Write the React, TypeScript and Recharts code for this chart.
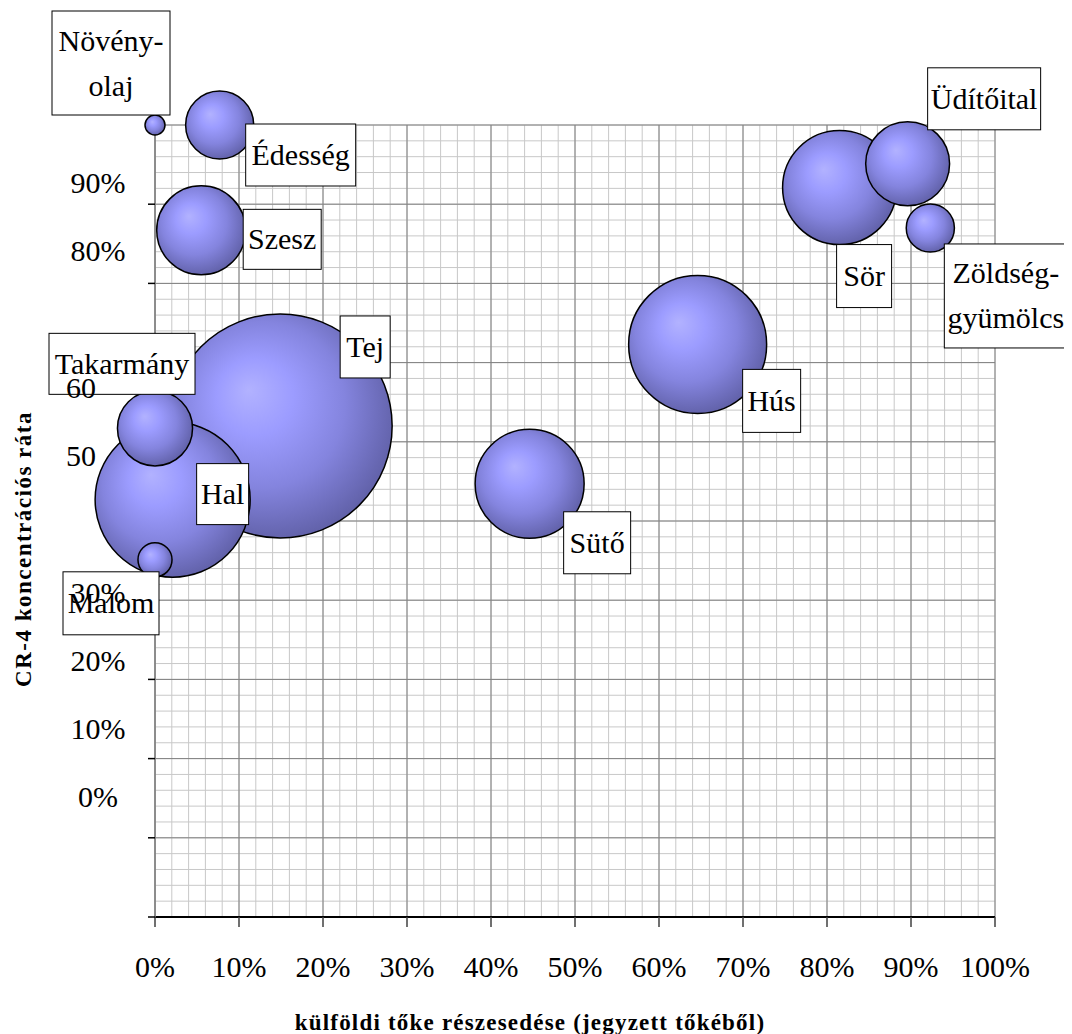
import React from 'react';
import { ScatterChart, Scatter, XAxis, YAxis, ZAxis, CartesianGrid, Label } from 'recharts';

// ---- data ----
const industries = ['Tej', 'Hal', 'Hús', 'Sör', 'Sütő', 'Szesz', 'Üdítőital', 'Takarmány', 'Édesség', 'Zöldség-gyümölcs', 'Malom', 'Növényolaj'];
const labelTexts = ['Tej', 'Hal', 'Hús', 'Sör', 'Sütő', 'Szesz', 'Üdítőital', 'Takarmány', 'Édesség', 'Zöldség-\ngyümölcs', 'Malom', 'Növény-\nolaj'];
const foreignShare = [14.9, 2.1, 64.6, 81.5, 44.6, 5.5, 89.6, 0, 7.7, 92.3, 0, 0];
const cr4 = [62.0, 52.7, 72.3, 92.1, 54.7, 86.7, 95.1, 61.7, 100, 87.0, 45.1, 100];
const bubbleSize = [125.4, 60.1, 47.6, 32.5, 29.7, 19.8, 17.6, 14.1, 11.6, 5.8, 2.9, 1.0];

const xTicks = [0, 10, 20, 30, 40, 50, 60, 70, 80, 90, 100];
const xTickLabels = ['0%', '10%', '20%', '30%', '40%', '50%', '60%', '70%', '80%', '90%', '100%'];
const yMajorTicks = [0, 10, 20, 30, 40, 50, 60, 70, 80, 90, 100];
const minorTicks = [0, 2, 4, 6, 8, 10, 12, 14, 16, 18, 20, 22, 24, 26, 28, 30, 32, 34, 36, 38, 40, 42, 44, 46, 48, 50, 52, 54, 56, 58, 60, 62, 64, 66, 68, 70, 72, 74, 76, 78, 80, 82, 84, 86, 88, 90, 92, 94, 96, 98, 100];
// y tick labels as they appear (free-floating text labels of the original)
const yLabelValues = [0, 10, 20, 30, 50, 60, 80, 90];
const yLabelTexts = ['0%', '10%', '20%', '30%', '50', '60', '80%', '90%'];

const xTitle = 'külföldi tőke részesedése (jegyzett tőkéből)';
const yTitle = 'CR-4 koncentrációs ráta';

const data = industries.map((name, i) => ({
  name,
  label: labelTexts[i],
  x: foreignShare[i],
  y: cr4[i],
  size: bubbleSize[i],
}));

// ---- label box placement relative to bubble centre (style config) ----
const labelBoxes: Record<string, { dx: number; dy: number; w: number; h: number }> = {
  'Tej': { dx: 60, dy: -110, w: 50, h: 62 },
  'Hal': { dx: 24, dy: -36, w: 52, h: 61 },
  'Hús': { dx: 45, dy: 25, w: 58, h: 63 },
  'Sör': { dx: -3, dy: 57, w: 55, h: 63 },
  'Sütő': { dx: 34, dy: 28, w: 67, h: 62 },
  'Szesz': { dx: 42, dy: -21, w: 78, h: 60 },
  'Üdítőital': { dx: 20, dy: -96, w: 113, h: 62 },
  'Takarmány': { dx: -106, dy: -95, w: 146, h: 61 },
  'Édesség': { dx: 26, dy: -1, w: 110, h: 62 },
  'Zöldség-gyümölcs': { dx: 14, dy: 16, w: 123, h: 104 },
  'Malom': { dx: -92, dy: 12, w: 96, h: 63 },
  'Növényolaj': { dx: -103, dy: -114, w: 118, h: 104 },
};

const SERIF = '"Liberation Serif", "Times New Roman", "DejaVu Serif", serif';

function LabelBox(props: any) {
  const { cx, cy } = props;
  const entry = props.payload || props;
  const box = labelBoxes[entry.name];
  if (!box || cx == null) return <g />;
  const lines: string[] = String(entry.label).split('\n');
  const x0 = cx + box.dx;
  const y0 = cy + box.dy;
  const midX = x0 + box.w / 2;
  const midY = y0 + box.h / 2;
  const lh = 45;
  return (
    <g>
      <rect x={x0} y={y0} width={box.w} height={box.h} fill="#ffffff" stroke="#000000" strokeWidth={1} />
      {lines.map((t, i) => (
        <text
          key={i}
          x={midX}
          y={midY + (i - (lines.length - 1) / 2) * lh + 10}
          textAnchor="middle"
          fontSize={30}
          fontFamily={SERIF}
          fill="#000000"
        >
          {t}
        </text>
      ))}
    </g>
  );
}

function YLabelTick(props: any) {
  const { x, y, payload } = props;
  const idx = yLabelValues.indexOf(payload.value);
  const txt = idx >= 0 ? yLabelTexts[idx] : '';
  const hasPct = txt.indexOf('%') >= 0;
  return (
    <text
      x={hasPct ? x - 49 : x - 81}
      y={y}
      dy="0.355em"
      textAnchor={hasPct ? 'middle' : 'start'}
      fontSize={30}
      fontFamily={SERIF}
      fill="#000000"
    >
      {txt}
    </text>
  );
}

function XTick(props: any) {
  const { x, y, payload } = props;
  const idx = xTicks.indexOf(payload.value);
  return (
    <text x={x} y={y} dy="0.71em" textAnchor="middle" fontSize={30} fontFamily={SERIF} fill="#000000">
      {idx >= 0 ? xTickLabels[idx] : ''}
    </text>
  );
}

const NoTick = () => <g />;

export default function App() {
  return (
    <div style={{ width: 1064, height: 1026, background: '#ffffff' }}>
      <ScatterChart width={1064} height={1026} margin={{ top: 117, right: 77, bottom: 0, left: 79 }}>
        <defs>
          <radialGradient id="bubbleGrad" cx="0.45" cy="0.44" r="0.57" fx="0.36" fy="0.34">
            <stop offset="0" stopColor="#B2B2FF" />
            <stop offset="0.3" stopColor="#9C9CFF" />
            <stop offset="0.65" stopColor="#8484DE" />
            <stop offset="1" stopColor="#6262AA" />
          </radialGradient>
        </defs>
        <XAxis xAxisId="xm" dataKey="x" type="number" domain={[0, 100]} ticks={minorTicks} hide allowDataOverflow interval={0} />
        <YAxis yAxisId="ym" dataKey="y" type="number" domain={[0, 100]} ticks={minorTicks} hide allowDataOverflow interval={0} />
        <CartesianGrid xAxisId="xm" yAxisId="ym" stroke="#C8C8C8" strokeWidth={1} />
        <XAxis
          xAxisId="x"
          dataKey="x"
          type="number"
          domain={[0, 100]}
          ticks={xTicks}
          height={117}
          axisLine={{ stroke: '#000000', strokeWidth: 2 }}
          tickLine={{ stroke: '#404040', strokeWidth: 1.5 }}
          tickSize={10}
          tickMargin={29}
          tick={<XTick />}
          interval={0}
        >
          <Label
            content={(p: any) => {
              const vb = p.viewBox;
              return (
                <text
                  x={vb.x + vb.width / 2 - 45}
                  y={vb.y + 113}
                  textAnchor="middle"
                  fontSize={23}
                  fontWeight="bold"
                  fontFamily={SERIF}
                  letterSpacing={1.2}
                  fill="#000000"
                >
                  {xTitle}
                </text>
              );
            }}
          />
        </XAxis>
        <YAxis
          yAxisId="a"
          dataKey="y"
          type="number"
          domain={[0, 100]}
          ticks={yMajorTicks}
          width={8}
          axisLine={{ stroke: '#808080', strokeWidth: 1.5 }}
          tickLine={{ stroke: '#000000', strokeWidth: 1.5 }}
          tickSize={7}
          tick={<NoTick />}
          interval={0}
        />
        <YAxis
          yAxisId="b"
          type="number"
          domain={[-17.6, 98.4]}
          ticks={yLabelValues}
          allowDataOverflow
          width={60}
          axisLine={false}
          tickLine={false}
          tickSize={0}
          tickMargin={0}
          tick={<YLabelTick />}
          interval={0}
        >
          <Label
            content={(p: any) => {
              const vb = p.viewBox;
              const cx = vb.x - 56.5;
              const cy = vb.y + vb.height / 2 + 28;
              return (
                <text
                  x={cx}
                  y={cy}
                  transform={`rotate(-90, ${cx}, ${cy})`}
                  textAnchor="middle"
                  fontSize={23}
                  fontWeight="bold"
                  fontFamily={SERIF}
                  letterSpacing={1.5}
                  fill="#000000"
                >
                  {yTitle}
                </text>
              );
            }}
          />
        </YAxis>
        <CartesianGrid xAxisId="x" yAxisId="a" stroke="#808080" strokeWidth={1} />
        <ZAxis dataKey="size" type="number" domain={[0, 130]} range={[0, 40841]} />
        <Scatter
          xAxisId="x"
          yAxisId="a"
          data={data}
          fill="url(#bubbleGrad)"
          stroke="#000000"
          strokeWidth={1.5}
          isAnimationActive={false}
        />
        <Scatter
          xAxisId="x"
          yAxisId="a"
          data={data}
          shape={(p: any) => <LabelBox {...p} />}
          isAnimationActive={false}
        />
      </ScatterChart>
    </div>
  );
}
